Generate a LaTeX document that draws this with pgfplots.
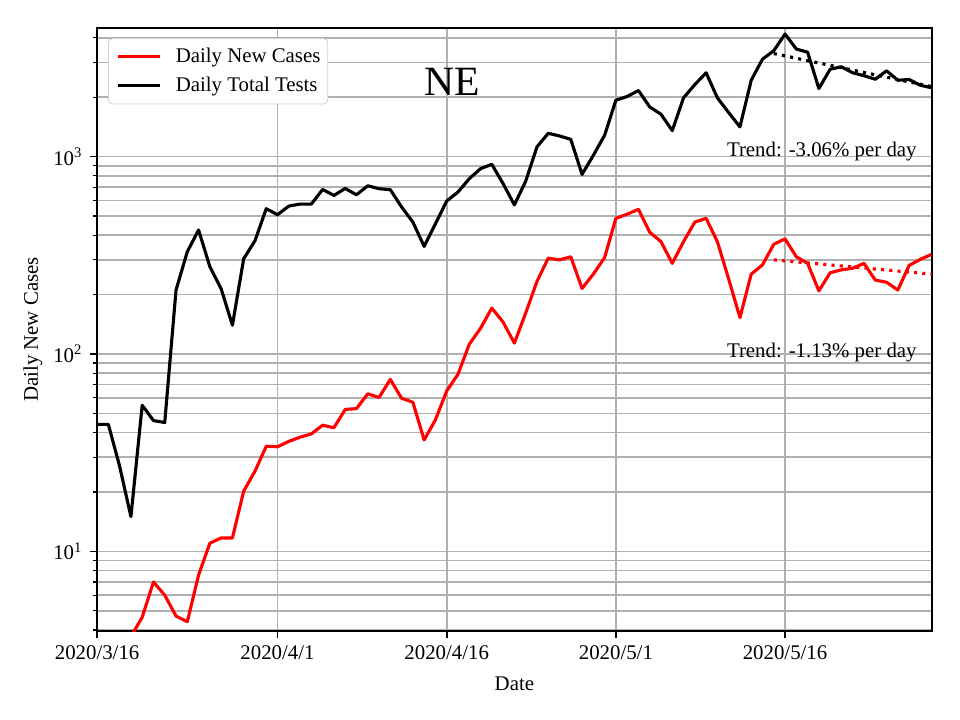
\documentclass[border=0pt]{standalone}
\usepackage{fontspec}
\setmainfont{Liberation Serif}
\usepackage{pgfplots}
\pgfplotsset{compat=1.18}
\definecolor{gridgray}{HTML}{B0B0B0}
\definecolor{mplred}{HTML}{FF0000}
\begin{document}
\begin{tikzpicture}
\path[use as bounding box] (0,0) rectangle (460.8pt,345.6pt);
\begin{axis}[
  at={(46.6pt,42.7pt)}, anchor=south west,
  scale only axis, width=400.6pt, height=289.5pt,
  ymode=log, xmin=0, xmax=74, ymin=3.95, ymax=4490,
  xtick={0,16,31,46,61},
  xticklabels={2020/3/16,2020/4/1,2020/4/16,2020/5/1,2020/5/16},
  ytick={10,100,1000},
  yticklabels={10\textsuperscript{1},10\textsuperscript{2},10\textsuperscript{3}},
  minor ytick={4,5,6,7,8,9,20,30,40,50,60,70,80,90,200,300,400,500,600,700,800,900,2000,3000,4000},
  grid=both,
  major grid style={draw=gridgray, line width=0.8pt},
  minor grid style={draw=gridgray, line width=0.8pt},
  tick align=outside, tick pos=left,
  major tick length=3.5pt, minor tick length=2pt,
  every tick/.style={black, line width=0.8pt},
  minor tick style={line width=0.6pt},
  axis line style={line width=0.8pt, black},
  ticklabel style={font=\fontsize{10}{12}\selectfont},
  xlabel={Date}, ylabel={Daily New Cases},
  xlabel style={at={(axis description cs:0.5,-0.088)}, anchor=center, font=\fontsize{10}{12}\selectfont},
  ylabel style={at={(axis description cs:-0.077,0.5)}, anchor=center, font=\fontsize{10}{12}\selectfont},
  legend style={at={(0.0132,0.983)}, anchor=north west, draw=black!18, rounded corners=2pt,
    font=\fontsize{10}{12}\selectfont, inner xsep=2pt, inner ysep=3pt, row sep=2.5pt,
    nodes={inner sep=1.5pt}},
  legend cell align=left,
  legend image code/.code={\path (-2pt,0pt); \draw[#1] (0pt,0pt) -- (20pt,0pt); \path (25.3pt,0pt);},
  every axis plot/.append style={line join=round},
]
\addplot[mplred, line width=1.5pt] coordinates {
(3,3.7) (4,4.64) (5,7.0) (6,6.0) (7,4.7) (8,4.4) (9,7.6) (10,11.0) (11,11.7) (12,11.7)
(13,20.2) (14,25.5) (15,34.1) (16,33.9) (17,36.1) (18,37.9) (19,39.4) (20,43.6) (21,42.3)
(22,52.4) (23,52.9) (24,62.9) (25,60.2) (26,74.4) (27,59.7) (28,57) (29,36.7) (30,46.4)
(31,65) (32,79) (33,112) (34,135) (35,171) (36,145) (37,113.6) (38,161) (39,233) (40,306)
(41,300) (42,311) (43,215) (44,254) (45,308) (46,487) (47,511) (48,541) (49,414) (50,371)
(51,288) (52,371) (53,466) (54,487) (55,371) (56,240) (57,153) (58,254) (59,283) (60,360)
(61,383) (62,311) (63,288) (64,209) (65,258) (66,267) (67,272) (68,288) (69,237) (70,231)
(71,211) (72,281) (73,302) (74,320)
};
\addlegendentry{Daily New Cases}
\addplot[black, line width=1.5pt] coordinates {
(0,44) (1,44) (2,27) (3,15) (4,55) (5,46) (6,45) (7,211) (8,330) (9,425) (10,277) (11,214)
(12,140) (13,304) (14,375) (15,545) (16,508) (17,562) (18,575) (19,575) (20,682) (21,636)
(22,690) (23,641) (24,712) (25,688) (26,680) (27,556) (28,466) (29,351) (30,457) (31,596)
(32,662) (33,773) (34,869) (35,914) (36,730) (37,570) (38,750) (39,1120) (40,1313) (41,1273)
(42,1224) (43,813) (44,1015) (45,1283) (46,1932) (47,2017) (48,2163) (49,1787) (50,1640)
(51,1355) (52,1987) (53,2318) (54,2660) (55,1987) (56,1672) (57,1415) (58,2438) (59,3118)
(60,3441) (61,4180) (62,3508) (63,3383) (64,2213) (65,2775) (66,2852) (67,2660) (68,2570)
(69,2468) (70,2723) (71,2438) (72,2460) (73,2300) (74,2233)
};
\addlegendentry{Daily Total Tests}
\addplot[mplred, line width=1.5pt, dash pattern=on 1.5pt off 2.475pt, forget plot] coordinates {(60,300) (74,254)};
\addplot[black, line width=1.5pt, dash pattern=on 1.5pt off 2.475pt, forget plot] coordinates {(60,3330) (74,2264)};
\node[anchor=base east, font=\fontsize{10}{12}\selectfont, inner sep=0pt] at (axis cs:72.7,1000) {Trend: -3.06\% per day};
\node[anchor=base east, font=\fontsize{10}{12}\selectfont, inner sep=0pt] at (axis cs:72.7,96) {Trend: -1.13\% per day};
\node[anchor=center, font=\fontsize{20}{24}\selectfont, inner sep=0pt] at (axis description cs:0.425,0.91) {NE};
\end{axis}
\end{tikzpicture}
\end{document}
